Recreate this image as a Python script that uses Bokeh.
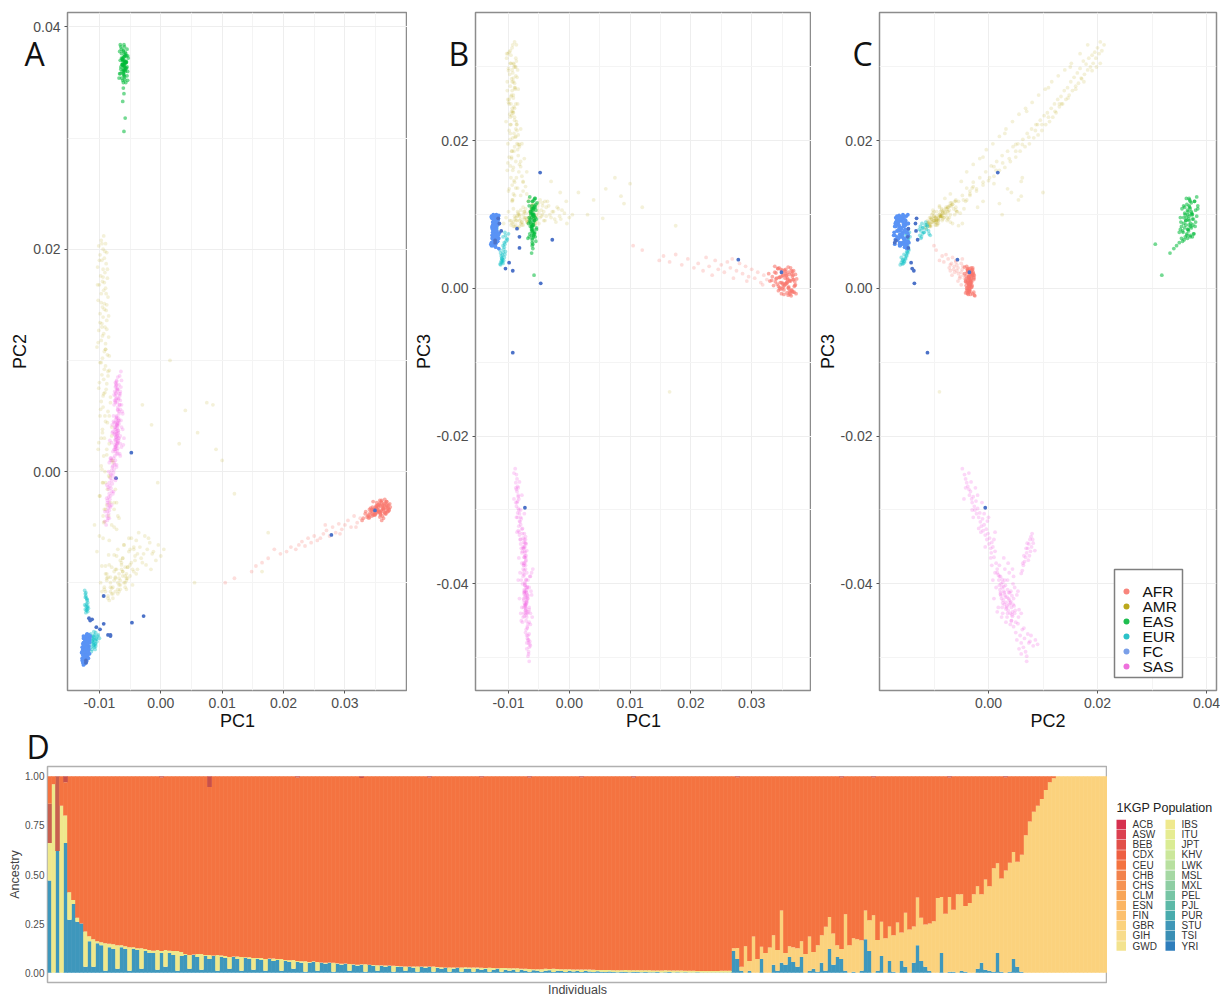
from bokeh.plotting import figure
from bokeh.layouts import row, column
from bokeh.models import FixedTicker, NumeralTickFormatter, Label, ColumnDataSource
from bokeh.core.properties import value
from bokeh.embed import file_html
from bokeh.resources import INLINE
import numpy as np

# principal component scores, in units of 1e-4
afr_pc1 = [372,368,365,362,360,358,355,352,350,347,
           370,367,364,361,359,356,353,351,348,345,
           369,366,363,360,357,354,350,346,343,340,
           371,367,362,358,355,349,344,338,334,330,
           365,360,356,352,363,368,358,
           374,370,366,362,358,354,350,346,342,338,
           373,369,365,361,357,353,349,345,341,336,
           372,368,364,360,356,352,348,344,340,333,
           371,367,363,359,355,351,347,343,339,328,
           325,320,315,310,305,300,295,290,285,280,275,270,265,260,255,250,245,240,235,230,225,220,212,205,195,185,175,165,155,148,120,105,318,292,268]
afr_pc2 = [-34,-30,-37,-33,-28,-39,-35,-31,-38,-34,
           -36,-32,-29,-40,-35,-30,-37,-33,-39,-36,
           -31,-38,-34,-26,-41,-36,-32,-39,-35,-41,
           -33,-35,-30,-37,-32,-38,-34,-40,-36,-42,
           -25,-44,-36,-28,-42,-27,-31,
           -32,-36,-28,-34,-38,-30,-35,-27,-33,-39,
           -29,-33,-37,-31,-26,-35,-39,-32,-37,-41,
           -35,-27,-31,-36,-29,-33,-37,-40,-34,-38,
           -30,-38,-33,-27,-36,-31,-34,-38,-42,-44,
           -42,-46,-40,-50,-44,-48,-52,-47,-55,-50,-58,-53,-56,-60,-62,-58,-64,-60,-67,-63,-66,-70,-68,-72,-74,-70,-78,-82,-85,-90,-96,-100,-50,-56,-48]
afr_pc3 = [5,18,-3,10,22,-6,14,2,25,8,
           -5,16,28,0,12,20,-8,6,26,15,
           24,-2,11,-9,17,4,21,1,27,13,
           9,-4,19,7,23,-7,3,30,16,10,
           -10,29,6,18,-6,12,8,
           13,3,20,-4,9,25,0,15,6,22,
           -7,12,24,2,18,-2,8,28,14,4,
           19,-5,10,1,26,7,16,-3,21,11,
           4,23,-8,14,6,17,-1,27,9,20,
           12,18,8,22,14,26,16,30,20,34,24,14,28,36,22,32,26,38,18,30,42,24,34,28,40,32,46,36,44,38,52,58,5,10,40]
afr_core_size = 87

amr_pc1 = [-93,-97,-90,-101,-94,-88,-99,-92,-96,-89,
           -103,-94,-91,-98,-87,-95,-100,-90,-93,-97,
           -86,-102,-92,-95,-89,-99,-94,-88,-96,-91,
           -101,-93,-85,-97,-90,-104,-92,-87,-95,-99,
           -90,-84,-96,-93,-88,-101,-91,-82,-97,-94,
           -86,-99,-90,-80,-95,-92,-84,-102,-88,-78,
           -97,-91,-83,-94,-87,-100,-76,-90,-85,-93,
           -108,-104,-100,-96,-92,-88,-84,-80,-76,-72,
           -68,-64,-60,-56,-52,-48,-44,-40,-36,-32,
           -28,-24,-20,-16,-12,-8,-4,0,5,-90,
           -86,-82,-78,-74,-70,-66,-62,-58,-54,-50,
           -46,-42,-38,-34,-30,-26,-22,-18,-14,-94,
           -88,-82,-76,-72,-68,-64,-60,-56,-70,-66,
           -62,-74,-78,-84,-58,-54,-80,-76,-72,-68,
           15,40,60,85,100,120,175,75,90,-30,-15,-5,30,55,165,
           -96,-91,-100,-87,-94,-103,-89,-97,-92,-85,-99,-88,-95,-102,-90,-84,-97,-92,-86,-100,
           -89,-94,-82,-98,-91,-87,-95,-80,-101,-88,-93,-78,-96,-85,-90,-74,-99,-82,-92,-70,
           -92,-88,-96,-90,-86,-93,-84,-97,-80,-95,-88,-76,-94,-70,-85,-66,-90,-62,-82,-58,
           -98,-92,-86,-80,-74,-68,-62,-56,-50,-44,-96,-90,-84,-78,-72,-66,-60,-54,-48,-42,
           -94,-88,-82,-76,-70,-64,-58,-52,-46,-40,-92,-86,-80,-74,-68,-62,-56,-50,-44,-38]
amr_pc2 = [212,208,205,203,200,197,195,192,190,187,
           184,182,179,176,174,171,168,165,163,160,
           157,154,151,148,145,142,139,136,133,130,
           127,124,121,118,115,112,108,105,102,98,
           95,91,87,83,79,75,71,67,63,58,
           54,50,45,40,35,30,25,20,15,10,
           5,0,-5,-10,-16,-22,-28,-34,-40,-46,
           -48,-72,-58,-85,-45,-96,-62,-105,-75,-52,
           -108,-88,-66,-98,-60,-82,-70,-92,-55,-78,
           -74,-84,-60,-88,-72,-80,-66,-76,-70,-108,
           -112,-100,-114,-95,-110,-106,-90,-104,-86,-94,
           -102,-76,-88,-68,-82,-58,-70,-64,-74,-40,
           -92,-104,-98,-88,-96,-84,-100,-92,-106,-102,
           -94,-108,-110,-116,-86,-96,-48,-34,-28,-42,
           100,55,35,60,10,-20,-55,62,20,60,42,-10,25,-100,-90,
           205,198,190,182,175,168,160,152,146,140,134,128,122,116,110,104,98,92,86,80,
           74,68,62,56,50,44,38,32,26,20,14,8,2,-4,-10,-16,-22,-28,-34,-40,
           170,150,130,110,90,70,50,30,10,-10,-30,-50,-60,-70,-75,-80,-85,-90,-95,-100,
           -100,-106,-95,-110,-88,-102,-78,-96,-70,-90,-108,-92,-84,-104,-76,-98,-66,-86,-60,-80,
           -112,-98,-108,-90,-100,-82,-94,-72,-88,-62,-104,-114,-86,-96,-92,-78,-106,-84,-68,-74]
amr_pc3 = [330,322,334,318,326,312,320,305,316,300,
           312,296,304,290,308,284,298,278,292,274,
           286,268,280,262,272,256,268,250,260,246,
           256,238,250,232,244,226,238,222,234,214,
           228,208,222,204,216,196,210,192,202,186,
           196,178,192,172,186,164,180,160,172,152,
           166,146,158,140,150,132,144,126,136,120,
           88,96,104,92,108,86,100,94,110,102,
           88,98,114,90,106,96,112,92,118,100,
           104,94,110,98,106,102,88,96,100,84,
           92,98,86,104,90,96,110,94,100,88,
           106,92,98,112,96,104,90,108,94,120,
           92,100,86,96,90,104,98,88,94,102,
           86,96,90,82,108,92,126,132,138,118,
           130,120,135,125,142,110,85,150,115,145,130,118,100,95,-140,
           305,300,295,330,280,318,270,305,258,296,250,288,240,280,232,270,222,262,214,252,
           205,244,195,236,186,226,176,216,170,206,160,196,150,188,144,176,135,168,128,158,
           285,300,250,272,222,240,195,210,165,178,136,145,118,128,104,122,98,112,92,104,
           92,84,98,88,104,90,110,96,116,100,86,94,102,90,108,92,114,98,120,104,
           88,96,84,100,92,106,94,112,98,118,90,82,106,94,96,108,86,102,116,110]

eas_pc1 = [-62,-60,-58,-61,-59,-63,-57,-60,-62,-58,
           -64,-61,-59,-56,-60,-62,-58,-63,-60,-57,
           -59,-61,-65,-55,-60,-58,-62,-64,-59,-61,
           -60,-63,-57,-61,-59,-56,-62,-60,-58,-64,
           -61,-59,-60,-62,-57,-66,-54,-60,-59,-61,
           -61,-60,-62,-58,-60,
           -67,-53,-65,-55,-68,-56,-64,-54,-66,-57,
           -63,-55,-67,-58,-65,-54,-62,-56,-66,-59]
eas_pc2 = [352,356,360,362,364,366,368,370,372,374,
           354,358,361,363,365,367,369,371,373,376,
           355,359,362,364,366,368,370,372,375,378,
           357,360,363,365,367,369,371,373,377,380,
           350,353,361,366,368,370,374,384,382,379,
           345,340,333,318,306,
           358,372,364,380,354,368,376,360,384,350,
           366,356,378,362,382,352,370,374,358,368]
eas_pc3 = [96,78,110,86,72,104,92,118,82,100,
           84,112,70,96,106,78,120,88,102,74,
           108,66,92,114,80,98,72,104,86,118,
           76,102,122,68,94,110,84,100,74,90,
           62,90,100,80,112,70,94,108,98,84,
           58,54,48,18,60,
           88,116,74,106,68,122,94,82,112,76,
           100,64,118,92,124,80,108,70,96,86]

eur_pc1 = [-124,-123,-122,-121,-120,-119,-124,-122,-120,-118,-123,-121,-119,-122,-120,-121,-123,-119,-122,-120,
           -114,-113,-112,-111,-110,-109,-108,-107,-106,-105,-114,-112,-111,-110,-109,-108,-107,-106,-104,-103,-113,-112,-110,-109,-107,-105,-102,-100,-106,-109]
eur_pc2 = [-107,-110,-112,-114,-116,-118,-120,-121,-122,-123,-124,-125,-126,-127,-115,-119,-113,-121,-109,-124,
           -146,-148,-150,-152,-154,-156,-158,-160,-155,-150,-158,-155,-153,-151,-149,-147,-152,-157,-153,-148,-162,-160,-157,-148,-155,-151,-147,-150,-145,-144]
eur_pc3 = [72,78,84,80,86,76,82,74,88,70,78,84,72,80,90,76,86,82,74,68,
           52,48,44,40,36,34,38,42,46,50,33,37,41,45,49,53,56,60,64,68,32,35,39,58,62,72,66,74,76,70]

fc_pc1 = [-128,-120,-125,-119,-127,-117,-124,-116,-123,-115,
          -122,-128,-119,-126,-120,-127,-118,-125,-117,-122,
          -126,-121,-127,-120,-123,-128,-119,-122,-126,-118,
          -125,-123,-122,-129,-124,-121,-127,-119,-124,-121,
          -123,-126,-122,-120,-125,-121,-118,-123,-126,-120,
          -124,-125,-123,-122,-118,-123,-121,-124,-119,-116,
          -127,-124,-121,-118,-125,-122,-119,-116,-126,-123,
          -120,-117,-128,-125,-122,-119,-116,-124,-121,-118,
          -126,-123,-120,-117,-125,-122,-119,-127,-124,-121]
fc_pc2 = [-168,-166,-164,-162,-160,-157,-155,-152,-150,-148,
          -172,-170,-168,-165,-163,-161,-158,-156,-153,-150,
          -174,-171,-169,-167,-164,-162,-159,-157,-154,-148,
          -170,-168,-165,-163,-160,-158,-155,-153,-151,-147,
          -166,-164,-161,-159,-157,-154,-152,-149,-148,-146,
          -173,-171,-169,-166,-163,-160,-157,-154,-151,-150,
          -172,-172,-170,-168,-167,-166,-165,-164,-163,-162,
          -161,-160,-158,-157,-156,-155,-154,-153,-152,-151,
          -150,-149,-148,-147,-156,-159,-162,-165,-168,-155]
fc_pc3 = [98,92,85,78,72,95,66,88,60,75,
          84,96,70,90,62,82,74,68,93,58,
          72,88,95,66,80,58,92,76,86,64,
          90,78,86,60,97,70,84,64,76,88,
          68,82,92,74,100,56,86,70,80,62,
          76,66,88,94,73,81,90,60,98,54,
          60,72,84,96,66,78,90,99,58,70,
          82,94,62,74,86,98,68,80,92,64,
          76,88,100,72,84,60,96,68,92,78]

fco_pc1 = [-48,278,-73,-93,-47,-28,349,-86,-82,-99,-93,-105,-117,-122,-115,-112,-122,-82]
fco_pc2 = [17,-57,-6,-112,-136,-130,-35,-147,-148,-142,-137,-140,-132,-170,-134,-133,-172,-147]
fco_pc3 = [157,39,-297,-87,7,66,22,81,70,35,24,27,95,65,88,78,62,55]

sas_pc1 = [-89,-87,-86,-88,-85,-87,-84,-86,-83,-86,-84,-87,-83,-85,-82,-84,-80,-85,-81,-83,-79,-84,-80,-82,-78,-81,-77,-80,-76,-79,-75,-78,-76,-74,-77,
           -75,-72,-74,-71,-73,-70,-74,-72,-75,-71,
           -73,-70,-74,-72,-69,-73,-71,-75,-70,-74,
           -72,-69,-73,-71,-75,-70,-72,-68,-74,-71,
           -76,-73,-70,-74,-71,-69,-75,-72,-70,-73,
           -74,-71,-69,-73,-72,-70,-74,-71,-68,-72,
           -71,-69,-72,-68,-70,-67,-71,-66,-69,-67,-68,-66,-70,-65,-68,-70,-67,-69,-66,-68,-64,-67,-65,-70,-72,
           -74,-75,-72,-74,-73,-75,-71,-74,-72,-74,-72,-73,-76,-71,-73,-72,-76,-74,-73,-71,-73,-70,
           -82,-66,-78,-64,-80,-68,-76,-62,-79,-65,-77,-63,-81,-67,-75,-61,-83,-66,-78,-64,-76,-69,-62,-66,-84,-60,-64,-79,-66,-77,
           -84,-91,-80,-88,-77,-88,-74,-85,-72,-82,-91,-82,-87,-78,-86,-74,-82,-72,-80,-70]
sas_pc2 = [-48,-44,-42,-40,-38,-36,-35,-33,-31,-30,-28,-26,-25,-23,-22,-20,-18,-16,-15,-13,-11,-10,-8,-6,-4,-3,-1,1,2,4,6,5,8,10,12,
           14,16,18,19,20,21,22,23,24,25,
           26,27,28,29,30,31,32,33,34,35,
           36,37,38,39,40,41,42,43,44,45,
           20,23,26,29,32,35,38,41,44,47,
           22,25,28,31,34,37,40,43,46,49,
           42,46,50,54,58,60,62,64,66,68,70,72,74,76,52,56,60,65,70,78,82,86,90,55,48,
           62,64,66,68,70,72,74,76,78,80,82,65,69,73,77,81,60,63,71,75,79,85,
           10,14,18,22,26,30,34,38,42,46,50,54,12,16,20,24,28,32,36,40,44,48,52,56,8,30,60,35,25,45,
           -42,-36,-30,-24,-18,-12,-6,0,6,12,-45,-32,-28,-20,-14,-8,-2,4,10,16]
sas_pc3 = [-244,-252,-258,-263,-268,-272,-280,-275,-285,-290,-282,-295,-300,-288,-305,-298,-310,-304,-316,-322,-312,-328,-320,-334,-326,-340,-332,-346,-338,-352,-344,-358,-350,-364,-356,
           -372,-380,-388,-395,-402,-408,-412,-416,-420,-405,
           -398,-422,-410,-428,-415,-402,-425,-432,-418,-408,
           -436,-420,-428,-412,-440,-424,-432,-416,-444,-428,
           -390,-400,-426,-412,-434,-440,-422,-410,-438,-430,
           -414,-394,-404,-418,-430,-412,-426,-442,-420,-436,
           -450,-458,-466,-454,-470,-480,-462,-486,-474,-492,-498,-468,-480,-478,-476,-488,-495,-460,-505,-470,-484,-476,-482,-445,-440,
           -382,-375,-370,-364,-358,-352,-346,-340,-336,-332,-345,-362,-352,-368,-356,-340,-386,-372,-345,-362,-350,-355,
           -420,-405,-432,-390,-440,-395,-445,-385,-450,-390,-452,-410,-385,-438,-375,-445,-365,-452,-372,-455,-380,-405,-415,-435,-395,-380,-440,-395,-432,-400,
           -270,-250,-300,-270,-325,-290,-350,-310,-375,-330,-285,-262,-310,-280,-330,-305,-315,-365,-340,-385]

# ancestry per individual (265 columns)
tsi = [.47,0,.62,0,.66,.27,.35,.26,.25,.03,
       .16,.03,.15,.14,.01,.13,.12,.02,.13,.12,
       .01,.12,.115,.02,.11,.10,.10,.015,.10,.03,
       .10,.09,.01,.085,
       .09,.02,.09,.08,.015,.085,.07,.085,.01,.08,
       .075,.02,.08,.07,.01,.075,.07,.015,.07,.065,
       .01,.07,.06,.065,.01,.06,.055,.02,.055,.05,
       .005,.05,.055,.01,.05,.045,.05,.005,.045,.04,
       .045,.01,.04,.035,.04,.005,.04,.035,.01,.035,
       .03,.035,.005,.03,.03,.01,.03,.025,.005,.03,
       .025,.03,.005,.025,.02,.025,.005,.02,.025,.005,
       .02,.02,.005,.02,.015,.02,.005,.015,.02,.005,
       .015,.01,.015,.005,.015,.01,.005,.012,.01,.005,
       .01,.012,.004,.01,.008,.004,.01,.006,.008,.003,
       .008,.006,.003,.007,.005,.003,.006,.004,.002,.005,
       .004,.002,.004,.003,.002,.004,.002,.002,.003,.001,
       .002,.003,.001,.002,.001,.002,.001,.001,.002,.001,
       .001,.001,.001,.001,.001,.001,.001,
       .11,.07,.01,0,.01,0,0,.07,0,0,
       .04,.01,.05,.04,.08,.055,.03,.08,0,.01,
       .02,.005,.05,.01,.12,.04,.08,.07,.01,0,
       .005,0,.01,.17,.11,0,.01,.085,0,.06,
       .005,0,.06,.03,0,.05,.14,.06,.03,.01,
       0,0,.10,0,.005,.005,0,.01,.005,0,
       0,.02,.05,.015,.01,.005,.10,.005,0,.005,
       .07,.03,.005,0,0,0,0,0,0,0,
       0,0,0,0,0,0,0,0,0,0,
       0,0,0,0]
ibs = [.19,.96,0,.85,.14,.14,.02,.02,0,.18,
       .025,.14,.01,.015,.14,.017,.025,.12,.01,.015,
       .12,.01,.01,.105,.01,.015,.012,.10,.01,.085,
       .012,.02,.10,.02,
       .005,.07,.003,.015,.08,.005,.02,.003,.08,.008,
       .01,.06,.003,.012,.07,.003,.008,.06,.005,.01,
       .06,.002,.012,.005,.06,.005,.008,.045,.005,.008,
       .053,.005,.003,.045,.002,.005,.002,.045,.003,.006,
       .002,.034,.003,.006,.003,.038,.001,.004,.028,.003,
       .006,.001,.03,.004,.003,.022,.002,.006,.027,.002,
       .006,.001,.026,.004,.008,.002,.022,.006,.002,.022,
       .008,.007,.022,.006,.01,.004,.02,.009,.003,.019,
       .009,.013,.007,.017,.005,.01,.014,.006,.008,.013,
       .01,.007,.016,.009,.01,.013,.007,.01,.008,.013,
       .008,.01,.012,.007,.009,.011,.008,.009,.011,.008,
       .01,.011,.009,.01,.01,.008,.01,.009,.008,.01,
       .01,.008,.01,.009,.01,.008,.009,.009,.007,.008,
       .008,.008,.008,.008,.009,.009,.009] + [0] * 94
gbr = [0] * 171 + [
       .015,.056,.02,.134,.05,.184,.07,.062,.10,.128,
       .15,.105,.267,.06,.054,.075,.095,.08,.095,.174,
       .085,.135,.14,.224,.164,.16,.06,.05,.287,.14,
       .17,.17,.155,.147,.157,.292,.157,.174,.175,.175,
       .185,.255,.145,.275,.22,.185,.243,.22,.215,.24,
       .262,.38,.286,.30,.38,.315,.40,.39,.335,.355,
       .40,.42,.35,.459,.43,.527,.457,.475,.52,.555,
       .545,.535,.595,.70,.77,.82,.85,.885,.93,.97,
       .99,1,1,1,1,1,1,1,1,1,
       1,1,1,1]
beb = [.20,0,.38] + [0] * 262
acb_index = [4, 28, 40, 62, 78, 95, 108, 120, 133, 146, 172, 198, 206, 225, 239]
acb_value = [.03, .006, .055, .006, .008, .006, .005, .006, .005, .006, .005, .006, .005, .006, .005]

pop_names = ["ACB","ASW","BEB","CDX","CEU","CHB","CHS","CLM","ESN","FIN","GBR","GIH","GWD",
             "IBS","ITU","JPT","KHV","LWK","MSL","MXL","PEL","PJL","PUR","STU","TSI","YRI"]
pop_colors = ["#D6304F","#DC4050","#E2504A","#EE5F42","#F47340","#F2824C","#F69353","#F8A557","#FBB563","#FCC06E","#FBD27D","#F8DC8C","#F3E38F",
              "#EFE98E","#E6EC92","#DAEC94","#CBE79B","#B8E0A0","#A5D8A4","#8ECEA4","#76C5A5","#5CB9A8","#48ABAD","#3F97B8","#3A8FB5","#2F7EBC"]

def cloud(*columns):
    return [np.array(c) * 1e-4 for c in columns]

afr = cloud(afr_pc1, afr_pc2, afr_pc3)
groups = [
    ([c[:afr_core_size] for c in afr], "#F8766D", 0.6),
    ([c[afr_core_size:] for c in afr], "#F8766D", 0.24),
    (cloud(amr_pc1, amr_pc2, amr_pc3), "#B79F00", 0.15),
    (cloud(eas_pc1, eas_pc2, eas_pc3), "#00BA38", 0.55),
    (cloud(eur_pc1, eur_pc2, eur_pc3), "#00BFC4", 0.4),
    (cloud(fc_pc1, fc_pc2, fc_pc3), "#5A93F5", 1.0),
    (cloud(fco_pc1, fco_pc2, fco_pc3), "#4C72C8", 1.0),
    (cloud(sas_pc1, sas_pc2, sas_pc3), "#F564E3", 0.25),
]
legend_names = ["AFR", "AMR", "EAS", "EUR", "FC", "SAS"]
legend_colors = ["#F8857C", "#BBA81C", "#1FBE50", "#2CC2C8", "#7A9FE8", "#EE70DC"]

TICK = "#4D4D4D"
FRAME = "#8C8C8C"
TOP = 46      # canvas rows above each frame; the page shows only the lower ones
LETTER_SHIFT = 14

def panel(xi, yi, xname, yname, letter, xr, yr, xt, xm, yt, ym, lb, fw, rb, letter_left):
    p = figure(width=lb + fw + rb, height=TOP + 678 + 46, x_range=xr, y_range=yr, output_backend="svg", toolbar_location=None,
               min_border_left=lb, min_border_right=rb, min_border_top=TOP, min_border_bottom=46,
               background_fill_color="white", margin=(12 - TOP, 0, 0, 0))
    p.outline_line_color = FRAME
    p.outline_line_width = 1.5
    for ax, ticks, minor, name in ((p.xaxis[0], xt, xm, xname), (p.yaxis[0], yt, ym, yname)):
        ax.ticker = FixedTicker(ticks=ticks, minor_ticks=minor)
        ax.formatter = NumeralTickFormatter(format="0.00")
        ax.axis_label = name
        ax.axis_label_text_font = "Liberation Sans"
        ax.axis_label_text_font_style = "normal"
        ax.axis_label_text_font_size = "18px"
        ax.axis_label_text_color = "#111111"
        ax.axis_label_standoff = 0
        ax.major_label_text_font = "Liberation Sans"
        ax.major_label_text_font_size = "14px"
        ax.major_label_text_color = TICK
        ax.major_label_standoff = 3
        ax.axis_line_color = None
        ax.major_tick_line_color = "#555555"
        ax.major_tick_out = 3
        ax.major_tick_in = 0
        ax.minor_tick_line_color = None
    for g in (p.xgrid[0], p.ygrid[0]):
        g.grid_line_color = "#EEEEEE"
        g.minor_grid_line_color = "#F4F4F4"
    for cols, color, alpha in groups:
        p.scatter(cols[xi], cols[yi], size=3.8, marker="circle", fill_color=color, fill_alpha=alpha, line_color=None)
    p.add_layout(Label(x=letter_left, y=67 + TOP - 12 - LETTER_SHIFT, x_units="canvas", y_units="canvas", text=letter,
                       text_font="Open Sans", text_font_size="32px", text_color="#111111",
                       text_baseline="alphabetic"), "above")
    return p

pa = panel(0, 1, "PC1", "PC2", "A", (-0.0152, 0.0402), (-0.0197, 0.0413),
           [-0.01, 0, 0.01, 0.02, 0.03], [-0.005, 0.005, 0.015, 0.025, 0.035],
           [0, 0.02, 0.04], [-0.01, 0.01, 0.03], 67, 340, 0, 24)
pb = panel(0, 2, "PC1", "PC3", "B", (-0.01543, 0.03984), (-0.05445, 0.03738),
           [-0.01, 0, 0.01, 0.02, 0.03], [-0.005, 0.005, 0.015, 0.025, 0.035],
           [-0.04, -0.02, 0, 0.02], [-0.05, -0.03, -0.01, 0.01, 0.03], 68, 336, 0, 41)
pc_range_x = (-0.02, 0.04183)
pc_range_y = (-0.05445, 0.03738)
pc = panel(1, 2, "PC2", "PC3", "C", pc_range_x, pc_range_y,
           [0, 0.02, 0.04], [-0.01, 0.01, 0.03],
           [-0.04, -0.02, 0, 0.02], [-0.05, -0.03, -0.01, 0.01, 0.03], 68, 337, 4, 41)

# key of panel C, placed in frame pixels (frame origin top-left, 337 x 678)
def fx(px):
    return pc_range_x[0] + px / 337 * (pc_range_x[1] - pc_range_x[0])
def fy(px):
    return pc_range_y[1] - px / 678 * (pc_range_y[1] - pc_range_y[0])

pc.quad(left=[fx(235)], right=[fx(303)], top=[fy(557)], bottom=[fy(665)],
        fill_color="white", line_color="#7F7F7F", line_width=1.5)
key_rows = [579 + 15 * k for k in range(len(legend_names))]
pc.scatter([fx(247)] * len(key_rows), [fy(r) for r in key_rows], size=6, marker="circle",
           fill_color=legend_colors, line_color=None)
pc.text([fx(263)] * len(key_rows), [fy(r) for r in key_rows], text=legend_names, text_baseline="middle",
        text_font=value("Liberation Sans"), text_font_size="15.5px", text_color="#111111")

# panel D
n = len(tsi)
acb = np.zeros(n)
acb[acb_index] = acb_value
base = np.array(tsi) + np.array(ibs) + np.array(gbr) + np.array(beb)
ceu = np.clip(1 - base - acb, 0, 1)
src = ColumnDataSource(dict(x=np.arange(n), TSI=tsi, IBS=ibs, GBR=gbr, BEB=beb, CEU=ceu, ACB=acb))

pd_ = figure(width=1107, height=TOP + 221 + 12, x_range=(-0.5, n - 0.5), y_range=(-0.05, 1.05),
             output_backend="svg", toolbar_location=None, border_fill_color=None,
             min_border_left=47, min_border_right=0, min_border_top=TOP, min_border_bottom=12,
             margin=(30 - TOP, 0, 0, 0))
pd_.vbar_stack(["TSI", "IBS", "GBR", "BEB", "CEU", "ACB"], x="x", width=1.15,
               color=["#3E97BC", "#EFE88C", "#FBD27D", "#C8604F", "#F47340", "#C8504A"],
               line_color=None, source=src)
pd_.outline_line_color = "#B0B0B0"
pd_.outline_line_width = 1.5
pd_.grid.visible = False
yax = pd_.yaxis[0]
yax.ticker = FixedTicker(ticks=[0, 0.25, 0.5, 0.75, 1])
yax.formatter = NumeralTickFormatter(format="0.00")
yax.axis_label = "Ancestry"
yax.axis_label_text_font = "Liberation Sans"
yax.axis_label_text_font_style = "normal"
yax.axis_label_text_font_size = "12.5px"
yax.axis_label_standoff = 0
yax.major_label_text_font = "Liberation Sans"
yax.major_label_text_font_size = "10px"
yax.major_label_text_color = TICK
yax.major_label_standoff = 3
yax.axis_line_color = None
yax.major_tick_line_color = None
yax.major_tick_out = 0
yax.major_tick_in = 0
yax.minor_tick_line_color = None
xax = pd_.xaxis[0]
xax.ticker = FixedTicker(ticks=[])
xax.axis_label = "Individuals"
xax.axis_label_text_font = "Liberation Sans"
xax.axis_label_text_font_style = "normal"
xax.axis_label_text_font_size = "12.5px"
xax.axis_label_standoff = 0
xax.axis_line_color = None
xax.major_tick_line_color = None
xax.major_tick_out = 0
xax.major_tick_in = 0
xax.minor_tick_line_color = None
pd_.add_layout(Label(x=26, y=760 - (766 - TOP) - LETTER_SHIFT, x_units="canvas", y_units="canvas", text="D",
                     text_font="Open Sans", text_font_size="32px", text_color="#111111",
                     text_baseline="alphabetic"), "above")

# key of panel D, in a figure of its own; its frame shows 199.6 page rows, y downwards
pk = figure(width=113, height=263, x_range=(0, 113), y_range=(199.6, 0), output_backend="svg", toolbar_location=None,
            x_axis_location=None, y_axis_location=None, title=None,
            min_border=0, min_border_left=0, min_border_right=0, min_border_top=0, min_border_bottom=0,
            outline_line_color=None)
pk.grid.visible = False
pk.text([9], [25], text=["1KGP Population"], text_baseline="middle", text_font=value("Liberation Sans"),
        text_font_size="12.5px", text_color="#222222")
nrows = 13
ky = [42 + 10.1 * (k % nrows) for k in range(len(pop_names))]
kx = [9 if k < nrows else 58 for k in range(len(pop_names))]
pk.quad(left=kx, right=[x + 9.5 for x in kx], top=[y - 4.8 for y in ky], bottom=[y + 4.8 for y in ky],
        fill_color=pop_colors, line_color=None)
pk.text([x + 16 for x in kx], ky, text=pop_names, text_baseline="middle", text_font=value("Liberation Sans"),
        text_font_size="10px", text_color="#333333")

layout = column(row(pa, pb, pc, spacing=0), row(pd_, pk, spacing=0), spacing=0)
open("out.html", "w").write(file_html(layout, INLINE))
